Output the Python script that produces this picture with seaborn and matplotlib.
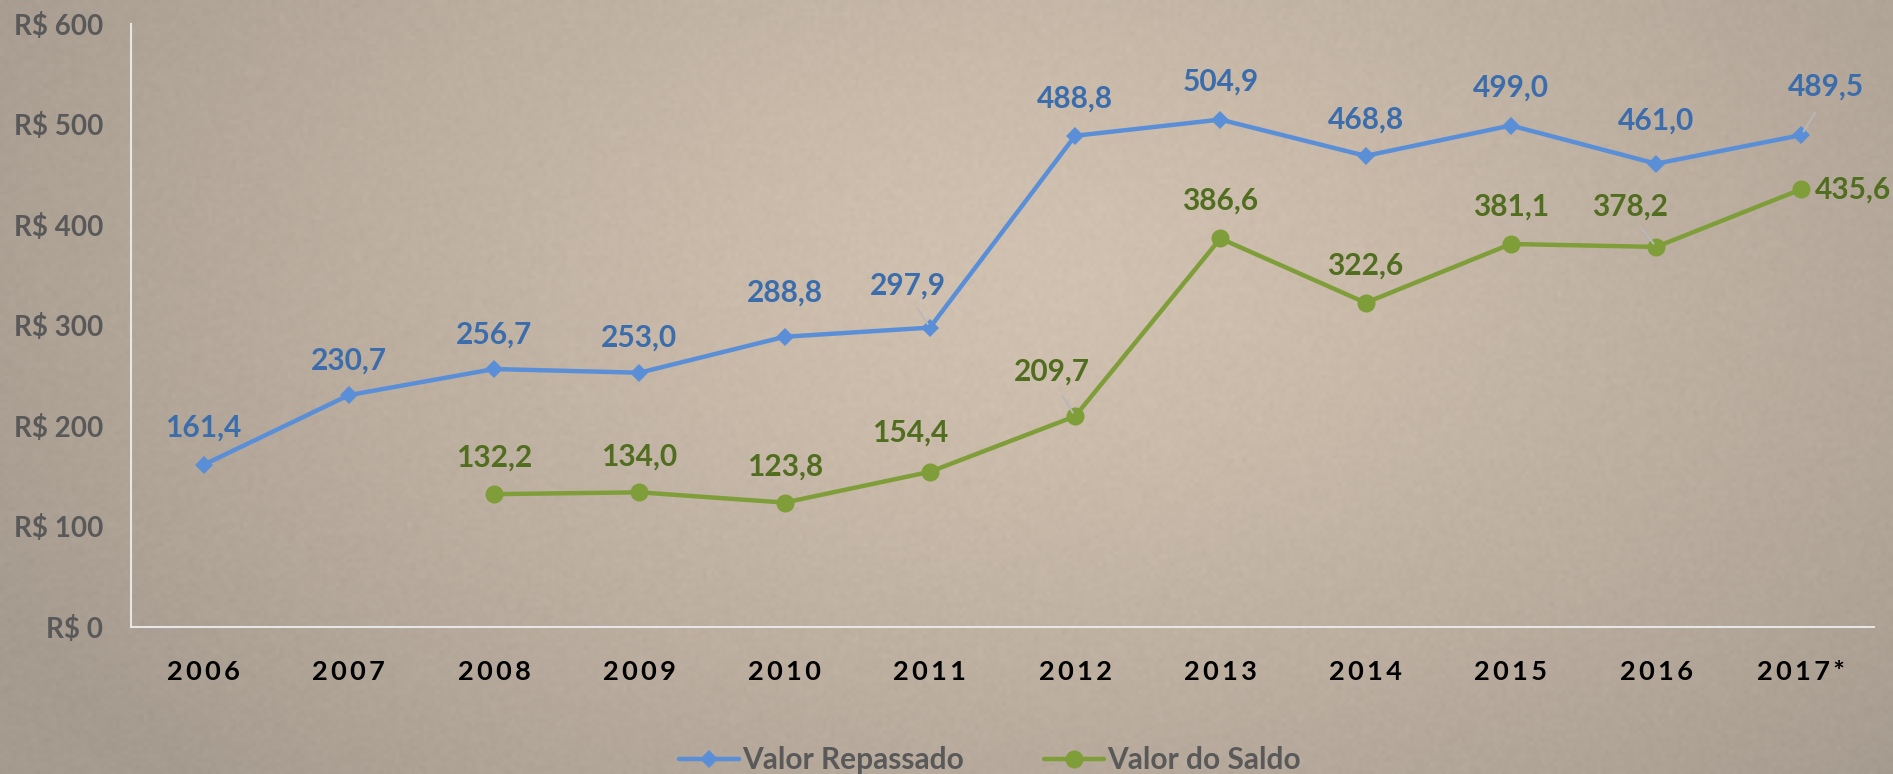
import numpy as np
import pandas as pd
import matplotlib
matplotlib.use("Agg")
import matplotlib.pyplot as plt
import seaborn as sns
from matplotlib.lines import Line2D

years = ["2006", "2007", "2008", "2009", "2010", "2011", "2012", "2013", "2014", "2015", "2016", "2017*"]
valor_repassado = [161.4, 230.7, 256.7, 253.0, 288.8, 297.9, 488.8, 504.9, 468.8, 499.0, 461.0, 489.5]
valor_saldo = [None, None, 132.2, 134.0, 123.8, 154.4, 209.7, 386.6, 322.6, 381.1, 378.2, 435.6]
yticks = [0, 100, 200, 300, 400, 500, 600]
series_names = ["Valor Repassado", "Valor do Saldo"]

# label offsets in points (dx, dy), and whether a leader line is drawn
rep_offsets = [(0, 28), (0, 26), (0, 26), (0, 26), (0, 33), (-16, 31), (0, 28), (0, 28), (0, 27), (0, 28), (0, 32), (18, 36)]
rep_leader = [False, False, False, False, False, True, False, False, False, False, False, True]
sal_offsets = [None, None, (0, 27), (0, 27), (0, 27), (-14, 29), (-17, 33), (0, 28), (0, 28), (0, 28), (-19, 30), (10, 0)]
sal_leader = [False, False, False, False, False, False, True, False, False, False, True, False]

sns.set_theme(style="white")
plt.rcParams['font.family'] = ['Lato', 'DejaVu Sans']

rows = []
for i, y in enumerate(years):
    rows.append({"pos": i, "valor": valor_repassado[i], "serie": series_names[0]})
    if valor_saldo[i] is not None:
        rows.append({"pos": i, "valor": valor_saldo[i], "serie": series_names[1]})
df = pd.DataFrame(rows)

W, H = 1893, 774
fig = plt.figure(figsize=(W / 100, H / 100), dpi=100)

# textured background
bg = fig.add_axes([0, 0, 1, 1], zorder=0)
yy, xx = np.mgrid[0:H:4, 0:W:4]
cx, cy = W * 0.55, H * 0.35
r = np.sqrt(((xx - cx) / (W * 0.62)) ** 2 + ((yy - cy) / (H * 0.95)) ** 2)
t = np.clip(r, 0, 1) ** 1.3
c_in = np.array([0.820, 0.757, 0.690])
c_out = np.array([0.650, 0.608, 0.560])
img = c_in[None, None, :] * (1 - t[..., None]) + c_out[None, None, :] * t[..., None]
rng = np.random.default_rng(3)
img = img + rng.normal(0, 0.006, img.shape[:2])[..., None]
bg.imshow(np.clip(img, 0, 1), extent=[0, 1, 0, 1], aspect="auto", interpolation="bilinear")
bg.axis("off")

ax = fig.add_axes([131 / W, (H - 627) / H, (1874 - 131) / W, (627 - 24) / H], zorder=1)
ax.patch.set_alpha(0)

blue = "#5a8fd8"
blue_txt = "#3b6cab"
green = "#7f9e3a"
green_txt = "#506d20"

sns.lineplot(data=df, x="pos", y="valor", hue="serie", style="serie",
             palette={series_names[0]: blue, series_names[1]: green},
             markers={series_names[0]: "D", series_names[1]: "o"},
             dashes=False, linewidth=3.2, ax=ax, legend=False)
for line, ms in zip(ax.lines, [9, 13]):
    line.set_markersize(ms)
    line.set_markeredgewidth(0)

def annotate(vals, offs, leaders, color):
    for i, v in enumerate(vals):
        if v is None:
            continue
        dx, dy = offs[i]
        txt = f"{v:.1f}".replace(".", ",")
        ha = "left" if dy == 0 else "center"
        va = "center" if dy == 0 else "bottom"
        ax.annotate(txt, (i, v), xytext=(dx, dy - 11 if va == "bottom" else 0),
                    textcoords="offset points", ha=ha, va=va,
                    fontsize=21.5, fontweight="bold", color=color, zorder=5)
        if leaders[i]:
            ax.annotate("", (i, v), xytext=(dx * 0.55, dy * 0.45),
                        textcoords="offset points",
                        arrowprops=dict(arrowstyle="-", color="#b8b8b8", lw=1.4,
                                        shrinkA=0, shrinkB=3))

annotate(valor_repassado, rep_offsets, rep_leader, blue_txt)
annotate(valor_saldo, sal_offsets, sal_leader, green_txt)

ax.set_xlim(-0.5, len(years) - 0.5)
ax.set_ylim(0, 600)
ax.set_xticks(range(len(years)))
ax.set_xticklabels(["\u2009".join(list(y)) for y in years])
ax.set_yticks(yticks)
ax.set_yticklabels([f"R$ {v}" for v in yticks])
ax.set_xlabel("")
ax.set_ylabel("")
ax.tick_params(axis="x", length=0, pad=24, labelsize=19.5, labelcolor="#000000")
ax.tick_params(axis="y", length=0, pad=20, labelsize=20, labelcolor="#595959")
for lab in ax.get_xticklabels():
    lab.set_fontweight("bold")
for lab in ax.get_yticklabels():
    lab.set_fontweight("bold")
for s in ["top", "right"]:
    ax.spines[s].set_visible(False)
for s in ["left", "bottom"]:
    ax.spines[s].set_color("#e6e6e6")
    ax.spines[s].set_linewidth(1.5)
ax.grid(False)

handles = [Line2D([], [], color=blue, lw=3.2, marker="D", markersize=9, markeredgewidth=0),
           Line2D([], [], color=green, lw=3.2, marker="o", markersize=13, markeredgewidth=0)]
leg = fig.legend(handles, series_names, loc="center", bbox_to_anchor=(0.523, (H - 760) / H),
                 ncol=2, frameon=False, fontsize=21.5, handlelength=2.0, handletextpad=0.1,
                 columnspacing=2.7)
for t_ in leg.get_texts():
    t_.set_color("#595959")
    t_.set_fontweight("bold")

fig.savefig("out.png", dpi=100)
